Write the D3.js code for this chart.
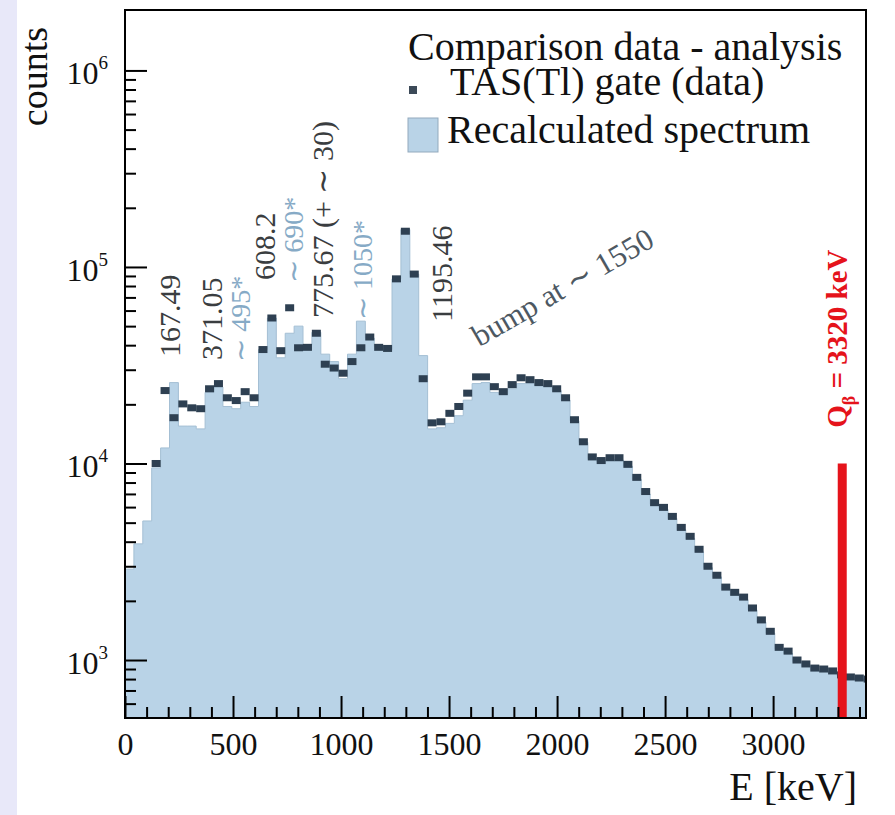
<!DOCTYPE html>
<html>
<head>
<meta charset="utf-8">
<script src="https://cdn.jsdelivr.net/npm/d3@7"></script>
<style>
  body { margin: 0; background: #ffffff; }
  svg { display: block; font-family: "Liberation Serif", "Times New Roman", serif; }
</style>
</head>
<body>
<div id="chart"></div>
<script>
// histogram binning (keV per bin)
var binWidth = 41.2;

// TAS(Tl) gate (data) - one value per bin, null where no marker is drawn
var tasGate = [
  null, null, null, 10000, 23500, 17100, 20100, 19200, 19000, 24000,
  25500, 21600, 20900, 23200, 21600, 38000, 55000, 37500, 62000, 38800,
  39000, 46000, 32000, 30600, 28800, 33000, 38800, 44000, 39000, 38500,
  87000, 152000, 92000, 27000, 16100, 16300, 18000, 19500, 22800, 27600,
  27600, 24600, 23200, 25200, 27300, 26700, 25800, 25500, 24000, 21600,
  16700, 12900, 10800, 10350, 10700, 10700, 9900, 8500, 7200, 6320,
  5980, 5380, 4730, 4260, 3660, 3000, 2700, 2350, 2210, 2090,
  1840, 1600, 1400, 1160, 1110, 1000, 955, 910, 900, 880,
  840, 820, 810, 800, 790, 780
];

// Recalculated spectrum (filled histogram)
var recalc = [
  2900, 3900, 5100, 9500, 12000, 25800, 15500, 15500, 15000, 23000,
  24500, 19500, 19000, 20500, 19500, 38000, 55000, 34500, 46000, 50000,
  40000, 46500, 36000, 33000, 27000, 36000, 53000, 43500, 39500, 38000,
  87000, 155000, 92000, 35400, 15000, 15200, 16000, 17500, 21000, 25500,
  25800, 23000, 22500, 24000, 25500, 25500, 25000, 24500, 23500, 21000,
  16500, 12800, 10600, 10200, 10500, 10400, 9700, 8300, 7000, 6200,
  5850, 5250, 4600, 4150, 3550, 2950, 2650, 2300, 2150, 2030,
  1800, 1560, 1370, 1140, 1080, 980, 935, 890, 880, 860,
  830, 810, 800, 790, 785, 775
];

var xMajorTicks = [0, 500, 1000, 1500, 2000, 2500, 3000];
var yDecades = [3, 4, 5, 6];

// peak annotations: text, energy (keV) of baseline, counts at text start, colour kind
var peakLabels = [
  { text: "167.49", e: 253, c: 34800, kind: "dark" },
  { text: "371.05", e: 448, c: 33600, kind: "dark" },
  { text: "\u223C 495*", e: 577, c: 32900, kind: "light" },
  { text: "608.2", e: 693, c: 85900, kind: "dark" },
  { text: "\u223C 690*", e: 823, c: 83000, kind: "light" },
  { text: "775.67 (+\u00A0\u223C\u00A030)", e: 962, c: 55000, kind: "dark" },
  { text: "\u223C 1050*", e: 1142, c: 53700, kind: "light" },
  { text: "1195.46", e: 1512, c: 52500, kind: "dark" }
];

var qValue = 3320;

var width = 895, height = 815;
var pL = 125, pR = 866, pT = 10, pB = 718;

var svg = d3.select("#chart").append("svg")
    .attr("width", width)
    .attr("height", height);

// lavender strip on the left of the page
svg.append("rect")
    .attr("x", 0).attr("y", 0)
    .attr("width", 17).attr("height", height)
    .style("fill", "#e8e8f9");

var x = d3.scaleLinear().domain([0, 3430]).range([pL, pR]);
var y = d3.scaleLog().domain([507, 2.03e6]).range([pB, pT]);

svg.append("clipPath").attr("id", "plotClip")
  .append("rect")
    .attr("x", pL).attr("y", pT)
    .attr("width", pR - pL).attr("height", pB - pT);

var plot = svg.append("g").attr("clip-path", "url(#plotClip)");

// filled recalculated spectrum as a step histogram
var steps = recalc.map(function(v, i) { return [i * binWidth, v]; });
steps.push([recalc.length * binWidth, recalc[recalc.length - 1]]);

var area = d3.area()
    .curve(d3.curveStepAfter)
    .x(function(d) { return x(d[0]); })
    .y0(pB)
    .y1(function(d) { return y(d[1]); });

plot.append("path")
    .datum(steps)
    .attr("d", area)
    .style("fill", "#b9d3e7")
    .style("stroke", "#a4bfd4")
    .style("stroke-width", 1);

// data markers
plot.selectAll("rect.marker")
    .data(tasGate.map(function(v, i) { return { e: (i + 0.5) * binWidth, v: v }; })
                 .filter(function(d) { return d.v != null; }))
  .enter().append("rect")
    .attr("class", "marker")
    .attr("x", function(d) { return x(d.e) - 4.5; })
    .attr("y", function(d) { return y(d.v) - 3.5; })
    .attr("width", 9)
    .attr("height", 7)
    .style("fill", "#2e4052");

// Q value line
plot.append("line")
    .attr("x1", x(qValue)).attr("x2", x(qValue))
    .attr("y1", y(1e4)).attr("y2", pB)
    .style("stroke", "#e5131b")
    .style("stroke-width", 9);

// x axis ticks (inward)
var minorX = d3.range(100, 3430, 100).filter(function(d) { return d % 500 != 0; });
svg.append("g")
    .attr("transform", "translate(0," + pB + ")")
    .call(d3.axisBottom(x).tickValues(minorX).tickSize(-11).tickFormat(""))
    .call(function(g) { g.select(".domain").remove(); })
    .selectAll("line").style("stroke", "#000").style("stroke-width", 2);

var xAxis = svg.append("g")
    .attr("transform", "translate(0," + pB + ")")
    .call(d3.axisBottom(x).tickValues(xMajorTicks).tickSize(-22).tickPadding(14).tickFormat(d3.format("d")));
xAxis.select(".domain").remove();
xAxis.attr("font-family", null).attr("font-size", null);
xAxis.selectAll("line").style("stroke", "#000").style("stroke-width", 2);
xAxis.selectAll("text")
    .style("font-family", "'Liberation Serif', serif")
    .style("font-size", "32px")
    .style("fill", "#111");

// y axis ticks (inward), log scale
var minorY = [];
[2, 3, 4, 5].forEach(function(p) {
  for (var k = 2; k <= 9; k++) {
    var v = k * Math.pow(10, p);
    if (v > 507 && v < 1.9e6) minorY.push(v);
  }
});
svg.append("g")
    .attr("transform", "translate(" + pL + ",0)")
    .call(d3.axisLeft(y).tickValues(minorY).tickSize(-11).tickFormat(""))
    .call(function(g) { g.select(".domain").remove(); })
    .selectAll("line").style("stroke", "#000").style("stroke-width", 2);

svg.append("g")
    .attr("transform", "translate(" + pL + ",0)")
    .call(d3.axisLeft(y).tickValues(yDecades.map(function(p) { return Math.pow(10, p); })).tickSize(-22).tickFormat(""))
    .call(function(g) { g.select(".domain").remove(); })
    .selectAll("line").style("stroke", "#000").style("stroke-width", 2);

var yLab = svg.selectAll("text.ylab")
    .data(yDecades)
  .enter().append("text")
    .attr("class", "ylab")
    .attr("x", 108)
    .attr("y", function(p) { return y(Math.pow(10, p)) + 14; })
    .style("text-anchor", "end")
    .style("font-size", "32px")
    .style("fill", "#111");
yLab.append("tspan").text("10");
yLab.append("tspan")
    .attr("dy", -15)
    .style("font-size", "19px")
    .text(function(p) { return p; });

// frame
svg.append("rect")
    .attr("x", pL).attr("y", pT)
    .attr("width", pR - pL).attr("height", pB - pT)
    .style("fill", "none")
    .style("stroke", "#000")
    .style("stroke-width", 2);

// axis titles
svg.append("text")
    .attr("x", 857).attr("y", 800)
    .style("text-anchor", "end")
    .style("font-size", "40px")
    .style("fill", "#111")
    .text("E [keV]");

svg.append("text")
    .attr("transform", "translate(47,27) rotate(-90)")
    .style("text-anchor", "end")
    .style("font-size", "38px")
    .style("fill", "#111")
    .text("counts");

// peak annotations
svg.selectAll("text.peak")
    .data(peakLabels)
  .enter().append("text")
    .attr("class", "peak")
    .attr("transform", function(d) { return "translate(" + x(d.e) + "," + y(d.c) + ") rotate(-90)"; })
    .style("font-size", function(d) { return d.kind == "dark" ? "30px" : "28px"; })
    .style("fill", function(d) { return d.kind == "dark" ? "#3a3d40" : "#86aac6"; })
    .text(function(d) { return d.text; });

svg.append("text")
    .attr("transform", "translate(" + x(1640) + "," + y(39000) + ") rotate(-30)")
    .style("font-size", "31px")
    .style("fill", "#4d5862")
    .text("bump at \u223C 1550");

// Q beta label
var qLab = svg.append("text")
    .attr("transform", "translate(" + x(3341) + "," + y(15200) + ") rotate(-90)")
    .style("font-size", "29px")
    .style("font-weight", "bold")
    .style("fill", "#e5131b");
qLab.append("tspan").text("Q");
qLab.append("tspan").attr("dy", 8).style("font-size", "18px").text("\u03B2");
qLab.append("tspan").attr("dy", -8).text(" = 3320 keV");

// legend
var legend = svg.append("g");
legend.append("text")
    .attr("x", 408).attr("y", 60)
    .style("font-size", "40px")
    .style("fill", "#111")
    .text("Comparison data - analysis");
legend.append("rect")
    .attr("x", 409).attr("y", 86)
    .attr("width", 8).attr("height", 8)
    .style("fill", "#3c4a58");
legend.append("text")
    .attr("x", 450).attr("y", 95)
    .style("font-size", "40px")
    .style("fill", "#111")
    .text("TAS(Tl) gate (data)");
legend.append("rect")
    .attr("x", 408).attr("y", 118)
    .attr("width", 30).attr("height", 34)
    .style("fill", "#b9d3e7")
    .style("stroke", "#93aabd")
    .style("stroke-width", 1);
legend.append("text")
    .attr("x", 447).attr("y", 143)
    .style("font-size", "40px")
    .style("fill", "#111")
    .text("Recalculated spectrum");
</script>
</body>
</html>
